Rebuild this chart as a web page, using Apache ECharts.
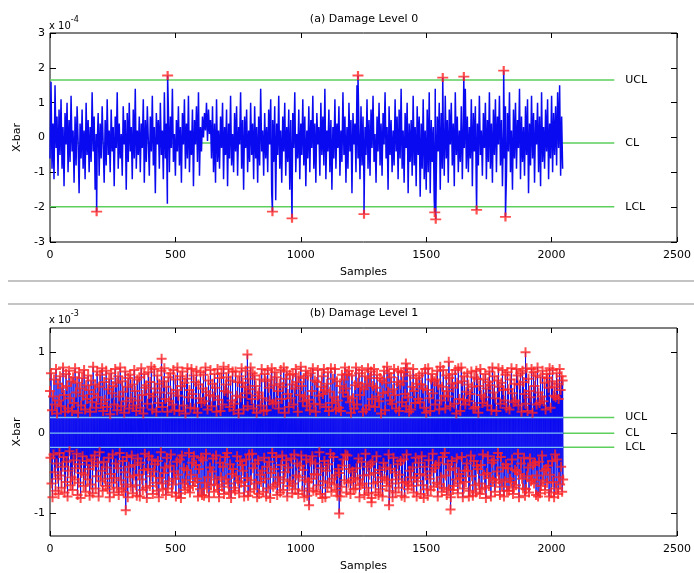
<!DOCTYPE html>
<html><head><meta charset="utf-8">
<script src="https://cdn.jsdelivr.net/npm/echarts@6/dist/echarts.min.js"></script>
<style>html,body{margin:0;padding:0;background:#fff}#c{width:694px;height:573px}</style>
</head><body><div id="c"></div>
<script>
// ---- data (values in axis units: panel a x1e-4, panel b x1e-3) ----
const xTicks = [0, 500, 1000, 1500, 2000, 2500];
const yTicksB = [-1, 0, 1];
const sampleStepA = 4;              // panel a base values: every 4th sample
const sampleStepB = 2;              // panel b base values: every 2nd sample
const limitNames = ['UCL', 'CL', 'LCL'];
const limitsA = [1.65, -0.16, -1.99];
const limitsB = [0.19, -0.005, -0.18];
const limitLineEnd = 2250;

const baseA = [
-0.6,1.6,-0.9,0.4,-1.2,1.5,-0.3,0.6, -1.1,0.8,-0.5,1.1,-0.9,0.3,-1.4,0.7,
-0.2,1.0,-1.0,0.5,-0.7,1.2,-0.4,0.2, -1.3,0.6,-0.8,0.9,-0.1,-1.6,0.4,-0.6,
0.8,-0.9,0.2,-1.2,1.0,-0.5,0.5,-1.0, 0.3,-0.7,1.3,-0.4,0.6,-1.5,0.1,-0.3,
0.7,-1.1,0.4,-0.6,0.9,-0.2,-1.3,0.5, -0.8,1.1,-0.5,0.2,-1.0,0.8,-0.4,0.3,
-1.4,0.6,-0.3,1.3,-0.9,0.4,-0.6,0.1, -1.1,0.9,-0.2,0.5,-1.5,0.7,-0.7,1.0,
-0.4,0.3,-1.2,0.8,-0.6,1.4,-0.9,0.2, -0.5,0.6,-1.0,0.4,-0.3,1.1,-1.3,0.5,
-0.7,0.9,-0.1,-1.1,0.6,-0.4,1.2,-0.8, 0.3,-1.6,0.7,-0.2,0.5,-0.9,1.0,-0.5,
0.2,-1.2,1.3,-0.6,0.4,-1.9,0.8,-1.0, 0.6,-0.3,1.4,-0.7,0.1,-1.1,0.5,-0.4,
0.9,-0.8,0.3,-1.3,0.7,-0.2,1.1,-0.9, 0.4,-0.6,1.2,-1.0,0.2,-0.5,0.8,-1.4,
0.5,-0.2,0.9,-0.7,1.3,-1.1,0.3,-0.4, 0.6,0.0,0.7,0.2,1.0,-0.1,0.8,0.1,
0.5,-0.6,0.9,-1.0,0.4,-1.3,1.1,-0.7, 0.2,-0.9,0.6,-0.3,1.0,-1.2,0.3,-0.5,
0.8,-1.4,0.4,-0.6,1.2,-0.8,0.1,-1.0, 0.7,-0.4,0.9,-1.1,0.3,-0.2,1.3,-0.9,
0.5,-1.5,0.6,-0.3,0.8,-1.0,0.2,-0.7, 1.0,-0.5,0.4,-1.2,0.9,-0.6,0.3,-1.3,
0.6,-0.8,1.4,-0.4,0.2,-1.1,0.7,-0.6, 0.3,-1.0,0.8,-0.2,1.1,-1.6,0.5,-0.7,
0.9,-1.8,0.4,-0.5,1.2,-0.9,0.2,-1.3, 0.6,-0.4,1.0,-1.1,0.3,-0.7,0.8,-1.5,
0.5,-1.9,0.7,-0.3,1.3,-1.0,0.1,-0.6, 0.8,-1.2,0.4,-0.5,1.1,-0.8,0.6,-1.4,
0.2,-0.6,0.9,-1.0,0.5,-0.3,1.2,-0.9, 0.4,-1.3,0.7,-0.2,0.3,-1.1,1.0,-0.5,
0.6,-0.8,1.4,-1.2,0.2,-0.4,0.8,-1.0, 0.5,-1.5,0.3,-0.6,1.1,-0.9,0.4,-0.3,
0.9,-1.1,0.2,-0.7,1.3,-0.5,0.6,-1.3, 0.3,-0.9,1.0,-0.4,0.5,-1.6,0.7,-0.2,
0.4,-1.0,1.5,-0.6,0.2,-1.2,0.9,-0.8, 0.6,-1.4,0.3,-0.5,1.1,-0.9,0.5,-1.1,
0.8,-0.3,1.2,-0.7,0.1,-1.3,0.6,-0.4, 1.0,-0.8,0.4,-1.1,0.7,-0.2,1.3,-0.6,
0.3,-1.5,0.9,-0.5,0.5,-1.0,0.2,-0.8, 1.1,-0.4,0.6,-1.2,0.8,-0.6,1.4,-0.9,
0.2,-1.3,0.7,-0.3,1.0,-1.6,0.4,-0.7, 0.5,-1.1,1.2,-0.8,0.3,-1.4,0.9,-0.5,
0.6,-1.7,0.4,-0.9,1.1,-1.2,0.2,-1.5, 0.8,-1.0,1.3,-1.6,0.5,-0.7,0.3,-1.8,
1.4,-1.2,0.6,-0.4,1.0,-1.5,0.7,-0.9, 0.3,-1.1,1.2,-0.6,0.5,-1.3,0.8,-0.2,
1.0,-0.8,0.4,-1.4,1.3,-0.5,0.6,-1.0, 0.2,-0.7,0.9,-1.2,0.5,-0.3,1.4,-0.9,
0.6,-1.0,0.3,-0.6,1.1,-1.4,0.7,-0.4, 0.9,-1.6,0.4,-0.8,1.2,-0.5,0.2,-1.1,
0.7,-0.3,1.0,-1.2,0.5,-0.7,1.3,-0.9, 0.4,-1.3,0.8,-0.5,1.1,-1.0,0.6,-0.2,
1.2,-0.8,0.5,-1.4,0.3,-0.6,0.9,-1.1, 0.7,-0.4,1.3,-1.0,0.2,-1.5,0.8,-0.6,
1.0,-0.9,0.5,-0.3,1.4,-1.2,0.6,-0.7, 0.3,-1.1,0.9,-0.5,1.1,-1.6,0.4,-0.8,
1.2,-0.6,0.7,-1.3,0.5,-0.2,1.0,-1.0, 0.6,-1.4,1.3,-0.7,0.3,-0.9,0.8,-0.4,
1.1,-1.2,0.4,-0.6,1.2,-1.0,0.7,-0.5, 0.9,-0.8,1.3,-0.3,1.5,-1.1,0.6,-0.9
];
const outSamplesA = [186, 469, 887, 965, 1228, 1252, 1534, 1538, 1566, 1650, 1701, 1809, 1816];
const outValuesA  = [-2.13, 1.78, -2.13, -2.32, 1.78, -2.2, -2.15, -2.35, 1.72, 1.75, -2.08, 1.92, -2.28];

const baseB = [
0.52,-0.31,0.74,-0.63,0.28,-0.80,0.45,-0.27,0.66,-0.49,0.35,-0.72,0.79,-0.38,0.24,-0.57,
0.61,-0.76,0.40,-0.25,0.70,-0.53,0.33,-0.68,0.56,-0.42,0.81,-0.30,0.47,-0.74,0.26,-0.61,
0.73,-0.36,0.58,-0.79,0.30,-0.47,0.77,-0.23,0.43,-0.65,0.64,-0.55,0.27,-0.71,0.69,-0.34,
0.37,-0.58,0.80,-0.44,0.50,-0.26,0.62,-0.77,0.25,-0.62,0.75,-0.39,0.55,-0.81,0.34,-0.50,
0.68,-0.29,0.46,-0.66,0.78,-0.52,0.29,-0.73,0.59,-0.35,0.42,-0.58,0.71,-0.45,0.53,-0.78,
0.26,-0.64,0.65,-0.33,0.38,-0.75,0.82,-0.41,0.48,-0.28,0.60,-0.69,0.31,-0.54,0.76,-0.37,
0.44,-0.79,0.57,-0.24,0.72,-0.60,0.36,-0.47,0.80,-0.72,0.27,-0.36,0.63,-0.57,0.41,-0.66,
0.77,-0.43,0.32,-0.70,0.54,-0.31,0.67,-0.80,0.23,-0.51,0.74,-0.62,0.49,-0.27,0.58,-0.74,
0.35,-0.56,0.79,-0.38,0.62,-0.68,0.28,-0.44,0.70,-0.77,0.45,-0.25,0.81,-0.59,0.33,-0.70,
0.64,-0.35,0.51,-0.73,0.25,-0.49,0.76,-0.64,0.39,-0.30,0.57,-0.80,0.68,-0.42,0.30,-0.55,
0.72,-0.67,0.43,-0.28,0.60,-0.75,0.34,-0.53,0.78,-0.40,0.52,-0.65,0.27,-0.78,0.66,-0.32,
0.40,-0.52,0.69,-0.79,0.31,-0.37,0.80,-0.58,0.47,-0.71,0.24,-0.46,0.73,-0.26,0.56,-0.68,
0.59,-0.81,0.36,-0.45,0.75,-0.29,0.48,-0.66,0.63,-0.54,0.82,-0.33,0.29,-0.76,0.45,-0.48,
0.79,-0.39,0.55,-0.62,0.26,-0.72,0.71,-0.35,0.37,-0.80,0.61,-0.56,0.50,-0.24,0.77,-0.63,
0.32,-0.70,0.64,-0.50,0.80,-0.43,0.42,-0.77,0.57,-0.31,0.26,-0.69,0.69,-0.60,0.39,-0.41,
0.74,-0.27,0.49,-0.74,0.35,-0.64,0.78,-0.48,0.28,-0.57,0.66,-0.79,0.53,-0.36,0.81,-0.52,
0.46,-0.75,0.27,-0.33,0.70,-0.81,0.58,-0.28,0.76,-0.63,0.34,-0.44,0.62,-0.71,0.24,-0.59,
0.67,-0.46,0.80,-0.68,0.44,-0.25,0.53,-0.74,0.31,-0.52,0.79,-0.37,0.48,-0.66,0.71,-0.29,
0.30,-0.61,0.63,-0.40,0.77,-0.57,0.25,-0.79,0.60,-0.45,0.43,-0.70,0.75,-0.31,0.37,-0.77,
0.55,-0.34,0.72,-0.78,0.39,-0.62,0.81,-0.26,0.51,-0.69,0.29,-0.55,0.65,-0.80,0.47,-0.43,
0.78,-0.65,0.33,-0.48,0.61,-0.32,0.45,-0.73,0.73,-0.58,0.56,-0.28,0.26,-0.64,0.79,-0.71,
0.41,-0.80,0.68,-0.37,0.27,-0.55,0.74,-0.67,0.35,-0.42,0.82,-0.76,0.52,-0.30,0.60,-0.58,
0.69,-0.25,0.50,-0.63,0.79,-0.74,0.32,-0.39,0.65,-0.81,0.40,-0.51,0.76,-0.45,0.28,-0.68,
0.36,-0.72,0.76,-0.54,0.46,-0.29,0.63,-0.60,0.24,-0.75,0.70,-0.35,0.44,-0.62,0.80,-0.40,
0.62,-0.47,0.29,-0.79,0.57,-0.66,0.77,-0.33,0.49,-0.56,0.33,-0.78,0.67,-0.27,0.54,-0.73,
0.81,-0.59,0.42,-0.26,0.74,-0.44,0.30,-0.70,0.71,-0.38,0.58,-0.63,0.25,-0.80,0.46,-0.34,
0.50,-0.76,0.66,-0.52,0.34,-0.61,0.79,-0.47,0.43,-0.73,0.27,-0.31,0.73,-0.57,0.64,-0.79,
0.28,-0.42,0.78,-0.69,0.56,-0.36,0.40,-0.81,0.66,-0.50,0.80,-0.25,0.36,-0.67,0.59,-0.45,
0.75,-0.64,0.38,-0.30,0.69,-0.77,0.52,-0.55,0.30,-0.62,0.61,-0.74,0.78,-0.40,0.42,-0.28,
0.57,-0.71,0.81,-0.58,0.25,-0.49,0.67,-0.34,0.76,-0.79,0.48,-0.43,0.32,-0.66,0.72,-0.60,
0.43,-0.32,0.60,-0.75,0.73,-0.63,0.35,-0.27,0.55,-0.70,0.79,-0.53,0.63,-0.38,0.26,-0.76,
0.70,-0.55,0.47,-0.41,0.82,-0.28,0.58,-0.72,0.39,-0.46,0.68,-0.80,0.45,-0.59,0.77,-0.33,
0.33,-0.78,0.71,-0.61,0.41,-0.69,0.28,-0.36,0.74,-0.57,0.52,-0.29,0.80,-0.72,0.36,-0.51,
0.65,-0.38,0.26,-0.73,0.63,-0.52,0.78,-0.65,0.46,-0.24,0.35,-0.76,0.57,-0.44,0.70,-0.81,
0.48,-0.60,0.79,-0.35,0.53,-0.80,0.32,-0.47,0.61,-0.68,0.75,-0.39,0.27,-0.62,0.51,-0.26,
0.80,-0.73,0.37,-0.57,0.67,-0.30,0.44,-0.64,0.79,-0.53,0.29,-0.71,0.64,-0.78,0.40,-0.45,
0.31,-0.50,0.58,-0.79,0.27,-0.67,0.72,-0.41,0.50,-0.33,0.66,-0.59,0.81,-0.27,0.55,-0.74,
0.73,-0.28,0.45,-0.62,0.77,-0.45,0.38,-0.76,0.25,-0.60,0.71,-0.48,0.43,-0.70,0.30,-0.56,
0.59,-0.69,0.81,-0.44,0.35,-0.58,0.62,-0.32,0.74,-0.80,0.47,-0.65,0.57,-0.36,0.78,-0.63,
0.26,-0.53,0.54,-0.77,0.70,-0.26,0.29,-0.68,0.61,-0.42,0.80,-0.75,0.34,-0.52,0.68,-0.39,
0.76,-0.81,0.42,-0.36,0.58,-0.63,0.79,-0.50,0.32,-0.74,0.56,-0.29,0.72,-0.61,0.45,-0.77,
0.39,-0.46,0.68,-0.70,0.24,-0.55,0.65,-0.79,0.49,-0.37,0.77,-0.57,0.28,-0.43,0.62,-0.66,
0.82,-0.59,0.51,-0.27,0.74,-0.72,0.40,-0.45,0.69,-0.63,0.36,-0.80,0.54,-0.31,0.79,-0.49,
0.47,-0.74,0.30,-0.58,0.63,-0.39,0.77,-0.68,0.27,-0.52,0.60,-0.35,0.75,-0.78,0.38,-0.62,
0.64,-0.33,0.75,-0.80,0.48,-0.61,0.33,-0.27,0.80,-0.70,0.44,-0.64,0.26,-0.47,0.71,-0.55,
0.29,-0.66,0.57,-0.43,0.79,-0.74,0.52,-0.56,0.37,-0.31,0.68,-0.79,0.61,-0.60,0.42,-0.37,
0.71,-0.51,0.38,-0.76,0.60,-0.29,0.74,-0.65,0.55,-0.81,0.31,-0.42,0.79,-0.53,0.25,-0.70,
0.53,-0.78,0.80,-0.34,0.43,-0.57,0.27,-0.71,0.66,-0.48,0.73,-0.26,0.49,-0.67,0.64,-0.44,
0.35,-0.40,0.66,-0.62,0.77,-0.79,0.59,-0.37,0.29,-0.64,0.82,-0.55,0.40,-0.73,0.57,-0.30,
0.78,-0.68,0.46,-0.25,0.30,-0.53,0.71,-0.77,0.52,-0.39,0.45,-0.70,0.68,-0.46,0.33,-0.80,
0.61,-0.35,0.73,-0.71,0.56,-0.66,0.36,-0.44,0.78,-0.58,0.24,-0.32,0.62,-0.75,0.80,-0.51,
0.42,-0.63,0.27,-0.56,0.81,-0.30,0.64,-0.80,0.41,-0.69,0.70,-0.47,0.35,-0.61,0.51,-0.38,
0.74,-0.47,0.60,-0.79,0.39,-0.72,0.48,-0.28,0.76,-0.54,0.57,-0.78,0.30,-0.35,0.69,-0.65,
0.32,-0.74,0.77,-0.41,0.67,-0.45,0.25,-0.63,0.58,-0.76,0.79,-0.40,0.47,-0.70,0.37,-0.27,
0.66,-0.52,0.44,-0.68,0.73,-0.81,0.55,-0.50,0.34,-0.29,0.63,-0.66,0.76,-0.56,0.59,-0.79,
0.28,-0.37,0.81,-0.59,0.50,-0.34,0.70,-0.73,0.43,-0.62,0.27,-0.48,0.65,-0.25,0.80,-0.58,
0.57,-0.77,0.36,-0.30,0.62,-0.67,0.78,-0.43,0.53,-0.79,0.40,-0.60,0.72,-0.39,0.31,-0.72,
0.75,-0.44,0.54,-0.72,0.29,-0.57,0.66,-0.61,0.80,-0.33,0.49,-0.76,0.38,-0.68,0.61,-0.46,
0.40,-0.65,0.79,-0.48,0.71,-0.26,0.34,-0.80,0.60,-0.51,0.74,-0.38,0.26,-0.57,0.77,-0.69,
0.63,-0.31,0.48,-0.78,0.36,-0.70,0.80,-0.54,0.27,-0.43,0.67,-0.74,0.52,-0.32,0.44,-0.60,
0.79,-0.58,0.25,-0.40,0.75,-0.63,0.58,-0.37,0.71,-0.77,0.35,-0.53,0.81,-0.79,0.50,-0.36,
0.37,-0.75,0.69,-0.66,0.45,-0.28,0.77,-0.59,0.39,-0.47,0.62,-0.71,0.29,-0.45,0.73,-0.62,
0.68,-0.41,0.56,-0.79,0.80,-0.52,0.31,-0.74,0.64,-0.35,0.78,-0.61,0.46,-0.80,0.57,-0.27,
0.44,-0.69,0.74,-0.33,0.61,-0.76,0.42,-0.55,0.79,-0.64,0.53,-0.42,0.70,-0.73,0.65,-0.58
];
const peakSamplesB = [445, 787, 1419, 1590, 1896, 302, 1033, 1153, 1282, 1352, 1597];
const peakValuesB  = [0.92, 0.97, 0.86, 0.88, 1.0, -0.96, -0.9, -1.0, -0.86, -0.9, -0.95];

// ---- build ----
function merge(base, step, xs, ys) {
  const pts = base.map((v, i) => [i * step, v]);
  xs.forEach((s, k) => pts.push([s, ys[k]]));
  pts.sort((a, b) => a[0] - b[0]);
  return pts;
}
const lineA = merge(baseA, sampleStepA, outSamplesA, outValuesA);
const lineB = merge(baseB, sampleStepB, peakSamplesB, peakValuesB);
const outA = lineA.filter(p => p[1] > limitsA[0] || p[1] < limitsA[2]);
const outB = lineB.filter(p => p[1] > limitsB[0] || p[1] < limitsB[2]);
const lastB = lineB[lineB.length - 1][0];

const FONT = '"DejaVu Sans", Arial, Helvetica, sans-serif';
const PLUS = 'path://M0,4H10V6H0Z M4,0H6V10H4Z';
const GREEN = '#5ccf5c';
const BLUE = '#0a0af0';
const RED = '#ff2323';

function xAxes(g) {
  const common = {
    gridIndex: g, type: 'value', min: 0, max: 2500, interval: 500,
    axisLine: { show: false, onZero: false }, splitLine: { show: false },
    axisTick: { show: true, inside: true, length: 5, lineStyle: { color: '#000', width: 1 } }
  };
  return [
    Object.assign({}, common, {
      position: 'bottom',
      axisLabel: { show: true, color: '#000', fontSize: 11, fontFamily: FONT, margin: 8,
                   customValues: xTicks, formatter: v => String(v) },
      name: 'Samples', nameLocation: 'middle', nameGap: 25,
      nameTextStyle: { color: '#000', fontSize: 11, fontFamily: FONT }
    }),
    Object.assign({}, common, { position: 'top', axisLabel: { show: false } })
  ];
}
function yAxes(g, extra) {
  const tick = { show: true, inside: true, length: 6, lineStyle: { color: '#000', width: 1 } };
  const lab = { color: '#000', fontSize: 11, fontFamily: FONT, margin: 5 };
  if (extra.ticks) { tick.customValues = extra.ticks; lab.customValues = extra.ticks; }
  const common = {
    gridIndex: g, type: 'value', min: extra.min, max: extra.max,
    axisLine: { show: false, onZero: false }, splitLine: { show: false }, axisTick: tick
  };
  if (extra.interval) common.interval = extra.interval;
  return [
    Object.assign({}, common, {
      position: 'left', axisLabel: Object.assign({ show: true }, lab),
      name: 'X-bar', nameLocation: 'middle', nameGap: 27, nameRotate: 90,
      nameTextStyle: { color: '#000', fontSize: 11, fontFamily: FONT }
    }),
    Object.assign({}, common, { position: 'right', axisLabel: Object.assign({}, lab, { show: false }) })
  ];
}

function limitSeries(axisIdx, limits, endX, color, width, z, withLabel) {
  return limits.map((v, k) => ({
    type: 'line', xAxisIndex: axisIdx, yAxisIndex: axisIdx, z: z,
    data: [[0, v], [endX, v]], showSymbol: false, silent: true,
    lineStyle: { color: color, width: width },
    endLabel: withLabel ? { show: true, formatter: limitNames[k], color: '#000', fontSize: 11, fontFamily: FONT, distance: 11 } : { show: false }
  }));
}
const sup = { a: { fontSize: 10, fontFamily: FONT, fill: '#000', padding: [6, 0, 0, 0] },
              b: { fontSize: 8, fontFamily: FONT, fill: '#000', padding: [0, 0, 6, 0] } };

const option = {
  animation: false,
  backgroundColor: '#fff',
  grid: [
    { left: 50, top: 33, width: 629, height: 209, show: true, borderColor: '#000', borderWidth: 1, backgroundColor: 'transparent' },
    { left: 50, top: 328, width: 629, height: 209, show: true, borderColor: '#000', borderWidth: 1, backgroundColor: 'transparent' }
  ],
  xAxis: [...xAxes(0), ...xAxes(1)],
  yAxis: [...yAxes(0, { min: -3, max: 3, interval: 1 }), ...yAxes(1, { min: -1.28, max: 1.3, ticks: yTicksB })],
  graphic: [
    { type: 'text', x: 364, y: 14, style: { text: '(a) Damage Level 0', fontSize: 11, fontFamily: FONT, fill: '#000', align: 'center', textAlign: 'center' } },
    { type: 'text', x: 49, y: 15, style: { text: '{a|x 10}{b|-4}', rich: sup } },
    { type: 'text', x: 364, y: 308, style: { text: '(b) Damage Level 1', fontSize: 11, fontFamily: FONT, fill: '#000', align: 'center', textAlign: 'center' } },
    { type: 'text', x: 49, y: 309, style: { text: '{a|x 10}{b|-3}', rich: sup } },
    { type: 'line', shape: { x1: 8, y1: 281, x2: 694, y2: 281 }, style: { stroke: '#b0b0b0', lineWidth: 1.5 } },
    { type: 'line', shape: { x1: 8, y1: 304, x2: 694, y2: 304 }, style: { stroke: '#b0b0b0', lineWidth: 1.5 } }
  ],
  series: [
    ...limitSeries(0, limitsA, limitLineEnd, GREEN, 1.5, 1, true),
    { type: 'line', xAxisIndex: 0, yAxisIndex: 0, z: 2, data: lineA, showSymbol: false, silent: true,
      lineStyle: { color: BLUE, width: 1.5 } },
    { type: 'scatter', xAxisIndex: 0, yAxisIndex: 0, z: 4, data: outA, symbol: PLUS, symbolSize: [11, 9],
      itemStyle: { color: RED } },

    ...limitSeries(2, limitsB, limitLineEnd, GREEN, 1.5, 1, true),
    { type: 'line', xAxisIndex: 2, yAxisIndex: 2, z: 2, data: lineB, showSymbol: false, silent: true,
      lineStyle: { color: BLUE, width: 1 } },
    ...limitSeries(2, limitsB, lastB, '#7cc0f4', 1.3, 3, false),
    { type: 'scatter', xAxisIndex: 2, yAxisIndex: 2, z: 4, data: outB, symbol: PLUS, symbolSize: 10,
      itemStyle: { color: RED } }
  ]
};
const chart = echarts.init(document.getElementById('c'));
chart.setOption(option);
</script>
</body></html>
